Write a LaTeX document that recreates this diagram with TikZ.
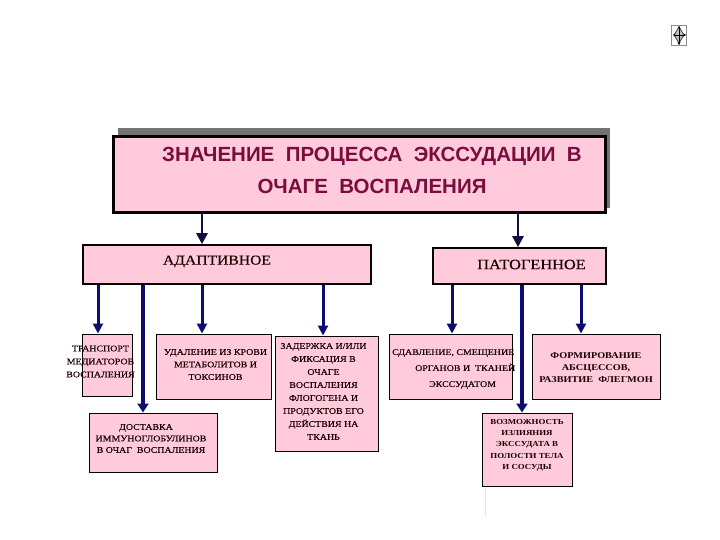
\documentclass[tikz,border=0pt]{standalone}
\usepackage{fontspec}
\setmainfont{Liberation Serif}
\newfontfamily\titlefont{Liberation Sans}
\newfontfamily\smallf[FakeStretch=1.15,FakeBold=0.25]{Liberation Serif}
\newfontfamily\smallb[FakeStretch=1.15,UprightFont=*,BoldFont=*]{Liberation Serif Bold}
\usetikzlibrary{arrows.meta}
\definecolor{pinkfill}{HTML}{FFCADB}
\definecolor{titletext}{HTML}{7A0C3E}
\definecolor{navyline}{HTML}{0C0C72}
\definecolor{darkline}{HTML}{10103E}
\tikzset{
  x=1pt,y=-1pt,
  box/.style={draw=black,fill=pinkfill,line width=1pt,inner sep=0pt},
  smalltext/.style={align=center,text=black!90!red,inner sep=0pt},
  thinarrow/.style={draw=navyline,line width=3pt,-{Triangle[length=10pt,width=10pt]}},
  thickarrow/.style={draw=navyline,line width=4.5pt,-{Triangle[length=9pt,width=11pt]}},
  toparrow/.style={draw=darkline,line width=2.6pt,-{Triangle[length=11pt,width=11pt]}},
}
\begin{document}
\begin{tikzpicture}
\useasboundingbox[fill=white] (0,0) rectangle (720,540);
% faint artefact lines
\draw[black!10,line width=0.8pt] (485,488) -- (485,516);
% icon
\node[draw=black!45,fill=white,line width=0.8pt,minimum width=15pt,minimum height=20pt,inner sep=0pt] (icon) at (679,35) {};
\path[draw=black!80,fill=black!25,line width=0.7pt] (679,27) -- (684,35) -- (679,43) -- (674,35) -- cycle;
\draw[black,line width=0.9pt,<->,>={Stealth[length=2.5pt,width=3pt]}] (673,35) -- (686,35);
\draw[black,line width=0.9pt,<->,>={Stealth[length=2.5pt,width=3pt]}] (679,26) -- (679,45);
% title
\node[fill=black!55,minimum width=492pt,minimum height=80pt,inner sep=0pt] (shadow) at (364,168) {};
\node[box,line width=3pt,minimum width=492pt,minimum height=76pt] (title) at (359,175) {};
\node[font=\titlefont\bfseries\fontsize{20.5}{32}\selectfont,text=titletext,align=center,inner sep=0pt] (titletxt) at (372,170) {ЗНАЧЕНИЕ\ \ ПРОЦЕССА\ \ ЭКССУДАЦИИ\ \ В\\ОЧАГЕ\ \ ВОСПАЛЕНИЯ};
% second row
\node[box,line width=1.6pt,minimum width=288pt,minimum height=39pt] (adapt) at (227,264.5) {};
\node[smalltext,font=\smallf\fontsize{13.6}{15}\selectfont] (adapttxt) at (217,261.5) {АДАПТИВНОЕ};
\node[box,line width=1.6pt,minimum width=173pt,minimum height=36pt] (patho) at (519.5,266) {};
\node[smalltext,font=\smallf\fontsize{14.2}{15}\selectfont] (pathotxt) at (531.5,264.5) {ПАТОГЕННОЕ};
% third row
\node[box,minimum width=50pt,minimum height=62pt] (trans) at (107,365) {};
\node[box,minimum width=115pt,minimum height=65pt] (udal) at (213.5,366.5) {};
\node[box,minimum width=128pt,minimum height=59pt] (dost) at (153,442.5) {};
\node[box,minimum width=103pt,minimum height=115pt] (zad) at (326.5,393.5) {};
\node[box,minimum width=123pt,minimum height=65pt] (sdav) at (450.5,366.5) {};
\node[box,minimum width=128pt,minimum height=65pt] (form) at (596,366.5) {};
\node[box,minimum width=90pt,minimum height=73pt] (vozm) at (527,449.5) {};
% connectors
\draw[toparrow] ([xshift=-157pt]title.south) -- ([xshift=-25pt]adapt.north);
\draw[toparrow] ([xshift=159pt]title.south) -- ([xshift=-1.5pt]patho.north);
\draw[thinarrow] ([xshift=-129pt]adapt.south) -- ([xshift=-9pt]trans.north);
\draw[thickarrow] ([xshift=-84pt]adapt.south) -- ([xshift=-10pt]dost.north);
\draw[thinarrow] ([xshift=-25pt]adapt.south) -- ([xshift=-11.5pt]udal.north);
\draw[thinarrow] ([xshift=96pt]adapt.south) -- ([xshift=-3.5pt]zad.north);
\draw[thinarrow] ([xshift=-67.5pt]patho.south) -- ([xshift=1.5pt]sdav.north);
\draw[thickarrow] ([xshift=2.5pt]patho.south) -- ([xshift=-5pt]vozm.north);
\draw[thinarrow] ([xshift=61.5pt]patho.south) -- ([xshift=-15pt]form.north);
% texts
\node[smalltext,font=\smallf\fontsize{8.6}{13}\selectfont] (transtxt) at (100.5,361.5) {ТРАНСПОРТ\\МЕДИАТОРОВ\\ВОСПАЛЕНИЯ};
\node[smalltext,font=\smallf\fontsize{8.6}{12.5}\selectfont] (udaltxt) at (215.5,364.5) {УДАЛЕНИЕ ИЗ КРОВИ\\МЕТАБОЛИТОВ И\\ТОКСИНОВ};
\node[smalltext,font=\smallf\fontsize{8.6}{11.5}\selectfont] (dosttxt) at (151,438.5) {\hspace*{-10pt}ДОСТАВКА\\ИММУНОГЛОБУЛИНОВ\\В ОЧАГ\ \ ВОСПАЛЕНИЯ};
\node[smalltext,font=\smallf\fontsize{8.6}{13}\selectfont] (zadtxt) at (323.5,391.5) {ЗАДЕРЖКА И/ИЛИ\\ФИКСАЦИЯ В\\ОЧАГЕ\\ВОСПАЛЕНИЯ\\ФЛОГОГЕНА И\\ПРОДУКТОВ ЕГО\\ДЕЙСТВИЯ НА\\ТКАНЬ};
\node[smalltext,font=\smallf\fontsize{8.6}{16}\selectfont,align=left,anchor=west] (sdavtxt) at (392,369) {СДАВЛЕНИЕ, СМЕЩЕНИЕ\\\hspace*{23pt}ОРГАНОВ И\ \ ТКАНЕЙ\\\hspace*{37pt}ЭКССУДАТОМ};
\node[smalltext,font=\smallb\fontsize{8.9}{12}\selectfont] (formtxt) at (596,368) {ФОРМИРОВАНИЕ\\АБСЦЕССОВ,\\РАЗВИТИЕ\ \ ФЛЕГМОН};
\node[smalltext,font=\smallb\fontsize{7.7}{11.3}\selectfont] (vozmtxt) at (527,445) {ВОЗМОЖНОСТЬ\\ИЗЛИЯНИЯ\\ЭКССУДАТА В\\ПОЛОСТИ ТЕЛА\\И СОСУДЫ};
\end{tikzpicture}
\end{document}
